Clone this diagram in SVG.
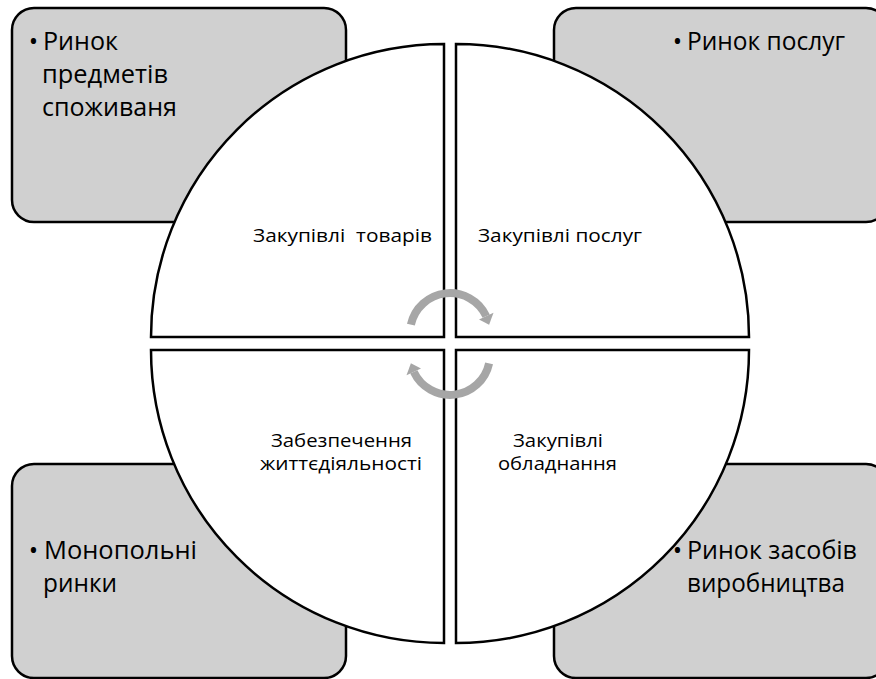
<svg xmlns="http://www.w3.org/2000/svg" width="876" height="679" viewBox="0 0 876 679">
<style>
.box{fill:#d0d0d0;stroke:#000;stroke-width:2.5}
.quad{fill:#fff;stroke:#000;stroke-width:2.5;stroke-linejoin:miter}
.big{font-family:"Open Sans","Liberation Sans",sans-serif;font-size:25px;fill:#000}
.small{font-family:"Open Sans","Liberation Sans",sans-serif;font-size:18.5px;fill:#000;white-space:pre}
.bul{font-family:"Open Sans","Liberation Sans",sans-serif;font-size:25px;fill:#000;text-anchor:middle}
.arc{fill:none;stroke:#a6a6a6;stroke-width:8}
.head{fill:#a6a6a6}
</style>
<rect width="876" height="679" fill="#fff"/>
<g id="box-tl"><rect class="box" x="12" y="8" width="334" height="214" rx="22"/></g>
<g id="box-tr"><rect class="box" x="554" y="8" width="334" height="214" rx="22"/></g>
<g id="box-bl"><rect class="box" x="12" y="464" width="334" height="214" rx="22"/></g>
<g id="box-br"><rect class="box" x="554" y="464" width="334" height="214" rx="22"/></g>
<g id="quad-tl"><path class="quad" d="M444,337 L151,337 A293,293 0 0 1 444,44 Z"/>
<text class="small" x="253" y="242" textLength="179" lengthAdjust="spacingAndGlyphs" xml:space="preserve">Закупівлі  товарів</text></g>
<g id="quad-tr"><path class="quad" d="M456,337 L456,44 A293,293 0 0 1 749,337 Z"/>
<text class="small" x="478" y="242" textLength="164" lengthAdjust="spacingAndGlyphs">Закупівлі послуг</text></g>
<g id="quad-br"><path class="quad" d="M456,350 L749,350 A293,293 0 0 1 456,643 Z"/>
<text class="small" x="513" y="447" textLength="90" lengthAdjust="spacingAndGlyphs">Закупівлі</text>
<text class="small" x="498" y="470" textLength="119" lengthAdjust="spacingAndGlyphs">обладнання</text></g>
<g id="quad-bl"><path class="quad" d="M444,350 L444,643 A293,293 0 0 1 151,350 Z"/>
<text class="small" x="271" y="447" textLength="141" lengthAdjust="spacingAndGlyphs">Забезпечення</text>
<text class="small" x="260" y="470" textLength="162" lengthAdjust="spacingAndGlyphs">життєдіяльності</text></g>
<g id="text-tl">
<text class="bul" x="33.5" y="50">•</text>
<text class="big" x="43" y="50" textLength="75" lengthAdjust="spacingAndGlyphs">Ринок</text>
<text class="big" x="42" y="83" textLength="126" lengthAdjust="spacingAndGlyphs">предметів</text>
<text class="big" x="42" y="116" textLength="135" lengthAdjust="spacingAndGlyphs">споживаня</text>
</g>
<g id="text-tr">
<text class="bul" x="677.5" y="50">•</text>
<text class="big" x="687" y="50" textLength="158" lengthAdjust="spacingAndGlyphs">Ринок послуг</text>
</g>
<g id="text-bl">
<text class="bul" x="33.5" y="559">•</text>
<text class="big" x="44" y="559" textLength="153" lengthAdjust="spacingAndGlyphs">Монопольні</text>
<text class="big" x="43" y="592" textLength="74" lengthAdjust="spacingAndGlyphs">ринки</text>
</g>
<g id="text-br">
<text class="bul" x="677.5" y="559">•</text>
<text class="big" x="687" y="559" textLength="170" lengthAdjust="spacingAndGlyphs">Ринок засобів</text>
<text class="big" x="687" y="592" textLength="158" lengthAdjust="spacingAndGlyphs">виробництва</text>
</g>
<g id="connectors">
<path class="arc" d="M410.9,324.7 A40,40 0 0 1 486.2,316.1"/>
<polygon class="head" points="479,319.5 493.5,312.7 489.1,324.7"/>
<path class="arc" d="M489.1,363.3 A40,40 0 0 1 413.8,371.9"/>
<polygon class="head" points="421,368.5 406.5,375.3 410.9,363.3"/>
</g>
</svg>
